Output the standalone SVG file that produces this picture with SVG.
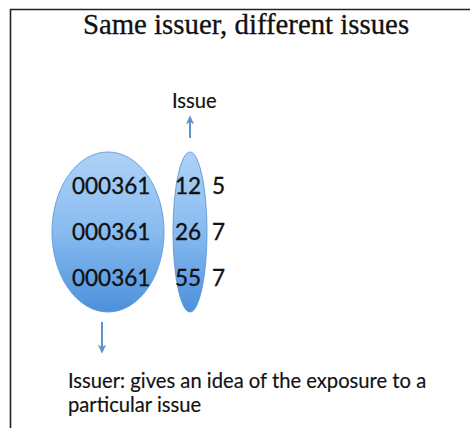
<svg xmlns="http://www.w3.org/2000/svg" width="470" height="428" viewBox="0 0 470 428">
  <defs>
    <linearGradient id="blueFill" x1="0" y1="0" x2="0" y2="1">
      <stop offset="0" stop-color="#aed2f8"/>
      <stop offset="0.5" stop-color="#88bbf0"/>
      <stop offset="1" stop-color="#4c90dc"/>
    </linearGradient>
    <marker id="arrowHead" viewBox="0 0 10 10" refX="7" refY="5" markerUnits="userSpaceOnUse" markerWidth="9" markerHeight="9" orient="auto">
      <path d="M0,0.5 L10,5 L0,9.5 L2.5,5 Z" fill="#5f93cc"/>
    </marker>
    <style>
      .title { font-family: "Liberation Serif", "DejaVu Serif", serif; font-size: 28.8px; fill: #111; stroke: #111; stroke-width: 0.3; }
      .label { font-family: Lato, "Open Sans", sans-serif; fill: #111; }
      .num { font-size: 22.5px; stroke: #111; stroke-width: 0.35; }
      .note { font-size: 20.2px; stroke: #111; stroke-width: 0.15; }
      .oval { fill: url(#blueFill); stroke: #5e97d6; stroke-width: 0.9; }
      .arrow { stroke: #5f93cc; stroke-width: 2; fill: none; marker-end: url(#arrowHead); }
    </style>
  </defs>

  <rect width="470" height="428" fill="#ffffff"/>
  <!-- frame -->
  <path d="M10.5,428 V9.5 H470" fill="none" stroke="#222" stroke-width="1.6"/>

  <text class="title" x="246" y="34" text-anchor="middle">Same issuer, different issues</text>

  <g id="issuer">
    <ellipse class="oval" cx="108" cy="232" rx="56" ry="80"/>
    <text class="label num" x="72" y="194">000361</text>
    <text class="label num" x="72" y="240">000361</text>
    <text class="label num" x="72" y="286">000361</text>
  </g>

  <g id="issue">
    <ellipse class="oval" cx="190" cy="232" rx="17" ry="80"/>
    <text class="label num" x="175" y="194">12</text>
    <text class="label num" x="175" y="240">26</text>
    <text class="label num" x="175" y="286">55</text>
  </g>

  <g id="values">
    <text class="label num" x="212" y="194">5</text>
    <text class="label num" x="212" y="240">7</text>
    <text class="label num" x="212" y="286">7</text>
  </g>

  <g id="issue-label">
    <text class="label note" x="172" y="108">Issue</text>
  </g>

  <g id="issuer-note">
    <text class="label note" x="68" y="388">Issuer: gives an idea of the exposure to a</text>
    <text class="label note" x="68" y="412">particular issue</text>
  </g>

  <g id="connectors">
    <line class="arrow" x1="190" y1="138" x2="190" y2="118"/>
    <line class="arrow" x1="102" y1="322" x2="102" y2="351"/>
  </g>
</svg>
